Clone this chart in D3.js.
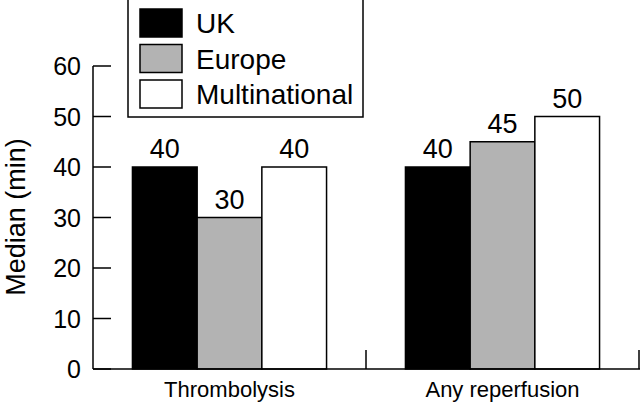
<!DOCTYPE html>
<html>
<head>
<meta charset="utf-8">
<script src="https://d3js.org/d3.v7.min.js"></script>
<style>
  body { margin: 0; background: #fff; }
  text { font-family: "Liberation Sans", Arial, sans-serif; fill: #000; }
</style>
</head>
<body>
<div id="chart"></div>
<script>
// data
let categories = ["Thrombolysis", "Any reperfusion"];
let seriesNames = ["UK", "Europe", "Multinational"];
let seriesColors = ["#000000", "#b3b3b3", "#ffffff"];
let ukValues = [40, 40];
let europeValues = [30, 45];
let multiValues = [40, 50];
let yTicks = [0, 10, 20, 30, 40, 50, 60];

let width = 640, height = 405;

let svg = d3.select("#chart").append("svg")
    .attr("width", width)
    .attr("height", height);

let x = d3.scaleBand()
    .domain(categories)
    .range([93, 639])
    .paddingInner(0.289)
    .paddingOuter(0.1445);

let xInner = d3.scaleBand()
    .domain(seriesNames)
    .range([0, x.bandwidth()]);

let y = d3.scaleLinear()
    .domain([0, 60])
    .range([369, 66]);

let series = seriesNames.map(function(name, i) {
    return { name: name, color: seriesColors[i], values: [ukValues, europeValues, multiValues][i] };
});

// bars
series.forEach(function(s) {
    let g = svg.append("g");
    g.selectAll("rect")
        .data(categories)
        .enter()
        .append("rect")
        .attr("x", function(c) { return x(c) + xInner(s.name); })
        .attr("y", function(c, i) { return y(s.values[i]); })
        .attr("width", xInner.bandwidth())
        .attr("height", function(c, i) { return y(0) - y(s.values[i]); })
        .style("fill", s.color)
        .style("stroke", "#000")
        .style("stroke-width", 1.5);

    g.selectAll("text")
        .data(categories)
        .enter()
        .append("text")
        .attr("x", function(c) { return x(c) + xInner(s.name) + xInner.bandwidth() / 2; })
        .attr("y", function(c, i) { return y(s.values[i]) - 9; })
        .attr("text-anchor", "middle")
        .style("font-size", "27px")
        .text(function(c, i) { return s.values[i]; });
});

// y axis
let yAxis = svg.append("g");
yAxis.append("line")
    .attr("x1", 93).attr("x2", 93)
    .attr("y1", y(60)).attr("y2", y(0))
    .style("stroke", "#000").style("stroke-width", 1.5);
yAxis.selectAll(".tick")
    .data(yTicks)
    .enter()
    .append("line")
    .attr("x1", 93).attr("x2", 111)
    .attr("y1", function(d) { return y(d); })
    .attr("y2", function(d) { return y(d); })
    .style("stroke", "#000").style("stroke-width", 1.5);
yAxis.selectAll("text")
    .data(yTicks)
    .enter()
    .append("text")
    .attr("x", 81)
    .attr("y", function(d) { return y(d) + 9; })
    .attr("text-anchor", "end")
    .style("font-size", "25px")
    .text(function(d) { return d; });

svg.append("text")
    .attr("transform", "translate(25,217) rotate(-90)")
    .attr("text-anchor", "middle")
    .style("font-size", "27px")
    .text("Median (min)");

// x axis
let xAxis = svg.append("g");
xAxis.append("line")
    .attr("x1", 93).attr("x2", 640)
    .attr("y1", y(0)).attr("y2", y(0))
    .style("stroke", "#000").style("stroke-width", 1.5);
let bounds = categories.map(function(c) { return x(c) + x.bandwidth() + x.step() * x.paddingInner() / 2; });
xAxis.selectAll(".sep")
    .data(bounds)
    .enter()
    .append("line")
    .attr("x1", function(d) { return Math.min(d, 639); })
    .attr("x2", function(d) { return Math.min(d, 639); })
    .attr("y1", y(0)).attr("y2", y(0) - 19)
    .style("stroke", "#000").style("stroke-width", 1.5);
xAxis.selectAll("text")
    .data(categories)
    .enter()
    .append("text")
    .attr("x", function(c) { return x(c) + x.bandwidth() / 2; })
    .attr("y", 397)
    .attr("text-anchor", "middle")
    .style("font-size", "22px")
    .text(function(c) { return c; });

// legend
let legend = svg.append("g");
legend.append("rect")
    .attr("x", 128).attr("y", -1)
    .attr("width", 235).attr("height", 118)
    .style("fill", "#fff").style("stroke", "#000").style("stroke-width", 1.5);
let item = legend.selectAll(".item")
    .data(series)
    .enter()
    .append("g")
    .attr("transform", function(d, i) { return "translate(140," + (9 + i * 35.5) + ")"; });
item.append("rect")
    .attr("width", 42).attr("height", 28)
    .style("fill", function(d) { return d.color; })
    .style("stroke", "#000").style("stroke-width", 1.5);
item.append("text")
    .attr("x", 56).attr("y", 24)
    .style("font-size", "28px")
    .text(function(d) { return d.name; });
</script>
</body>
</html>
